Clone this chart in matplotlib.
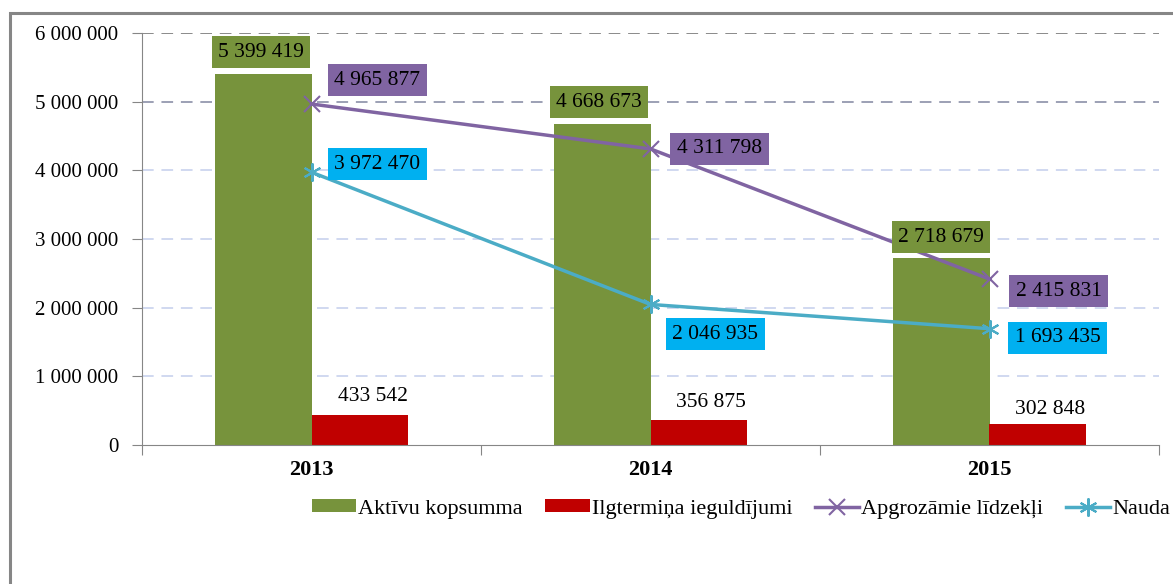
import numpy as np
import matplotlib.pyplot as plt
from matplotlib.patches import Rectangle
from matplotlib.ticker import FuncFormatter

# data
years = ['2013', '2014', '2015']
aktivu = [5399419, 4668673, 2718679]
ilgtermina = [433542, 356875, 302848]
apgrozamie = [4965877, 4311798, 2415831]
nauda = [3972470, 2046935, 1693435]

# label offsets in pixels (dx, dy)
off_akt = [(-2, 22), (-3, 22), (0, 21)]
off_ilg = [(13, 19), (12, 18), (12, 15)]
off_apg = [(66, 24), (69, 0), (69, -12)]
off_nau = [(66, 8), (65, -30), (68, -9)]

green = '#77933C'
red = '#C00000'
purple = '#8064A2'
cyan = '#4BACC6'
cyanbox = '#00B0F0'

plt.rcParams['font.family'] = ['Liberation Serif', 'DejaVu Serif']

# thousands separated by spaces
fmt = lambda v: '{:,}'.format(int(v)).replace(',', ' ')

fig = plt.figure(figsize=(11.73, 5.84), dpi=100)
ax = fig.add_axes([142 / 1173, 1 - 445 / 584, 1017 / 1173, 412 / 584])

# outer chart border (cropped on right and bottom)
fig.patches.append(Rectangle((10 / 1173, -0.2), 1.2, 1.2 - 13 / 584,
                             transform=fig.transFigure, fill=False,
                             edgecolor='#868686', linewidth=2.2, zorder=0))

x = np.arange(len(years))
w = 0.286
b1 = ax.bar(x - w / 2, aktivu, w, color=green, label='Aktīvu kopsumma', zorder=2)
b2 = ax.bar(x + w / 2, ilgtermina, w, color=red, label='Ilgtermiņa ieguldījumi', zorder=2)
l1, = ax.plot(x, apgrozamie, color=purple, linewidth=2.5, marker='x', markersize=12,
              markeredgewidth=1.5, label='Apgrozāmie līdzekļi', zorder=3)
l2, = ax.plot(x, nauda, color=cyan, linewidth=2.5, marker=(6, 2, 0), markersize=13,
              markeredgewidth=1.5, label='Nauda', zorder=3)

ax.set_xlim(-0.5, 2.5)
ax.set_ylim(0, 6000000)

# gridlines
for v in range(1000000, 6000001, 1000000):
    if v == 6000000:
        c = '#8a8a8a'
    elif v == 5000000:
        c = '#9ca0b4'
    else:
        c = '#d0d8f0'
    ax.axhline(v, color=c, linestyle=(0, (6, 4)), linewidth=1.4, zorder=1)

ax.yaxis.set_major_formatter(FuncFormatter(lambda v, p: fmt(v)))
ax.set_yticks(range(0, 6000001, 1000000))
ax.tick_params(axis='y', labelsize=15, length=7, color='#868686', pad=10)
ax.set_xticks([-0.5, 0.5, 1.5, 2.5])
ax.set_xticklabels([])
ax.set_xticks(x, minor=True)
ax.set_xticklabels(years, minor=True, fontsize=16, fontweight='bold')
ax.tick_params(axis='x', which='major', length=7, color='#868686')
ax.tick_params(axis='x', which='minor', length=0, pad=11)
for s in ['top', 'right']:
    ax.spines[s].set_visible(False)
for s in ['left', 'bottom']:
    ax.spines[s].set_color('#868686')


def lab(xv, yv, off, fc):
    bbox = None
    if fc is not None:
        bbox = dict(boxstyle='square,pad=0.3', facecolor=fc, edgecolor='none')
    ax.annotate(fmt(yv), (xv, yv), xytext=(off[0] * 0.72, off[1] * 0.72),
                textcoords='offset points', ha='center', va='center',
                fontsize=15.5, bbox=bbox, zorder=5)


for i in range(len(years)):
    lab(x[i] - w / 2, aktivu[i], off_akt[i], green)
    lab(x[i] + w / 2, ilgtermina[i], off_ilg[i], None)
    lab(x[i], apgrozamie[i], off_apg[i], purple)
    lab(x[i], nauda[i], off_nau[i], cyanbox)

ax.legend([b1, b2, l1, l2], [b1.get_label(), b2.get_label(), l1.get_label(), l2.get_label()],
          loc='center', bbox_to_anchor=(741 / 1173, 1 - 509 / 584),
          bbox_transform=fig.transFigure, ncol=4, frameon=False, fontsize=16,
          handlelength=2.0, handleheight=0.5, handletextpad=0.1, columnspacing=1.0)

fig.savefig('out.png', dpi=100)
